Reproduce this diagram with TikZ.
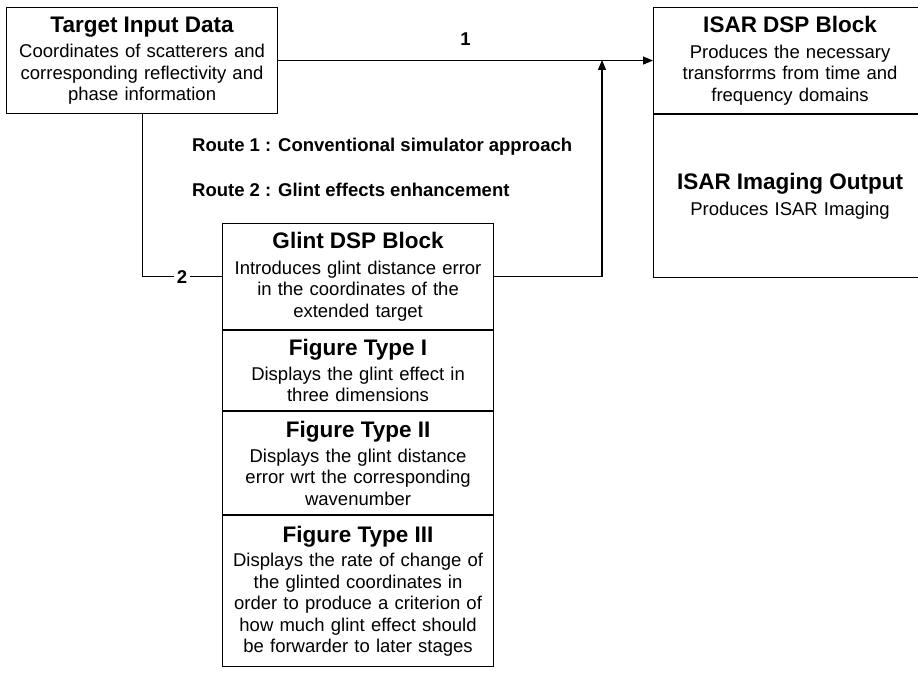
\documentclass[tikz,border=0pt]{standalone}
\usepackage{fontspec}
\setmainfont{Liberation Sans}
\usetikzlibrary{arrows.meta}
\newcommand\ttlfont{\fontsize{22.5}{25}\selectfont\bfseries}
\newcommand\bodyfont{\fontsize{18.5}{21.5}\selectfont}
\newcommand\lblfont{\fontsize{18.5}{21}\selectfont\bfseries}
\begin{document}
\begin{tikzpicture}[x=1pt,y=-1pt,
  blk/.style n args={2}{draw, line width=1.1pt, anchor=north west, inner sep=0pt,
    align=center, font=\bodyfont, text width=#1, minimum width=#1, minimum height=#2},
  link/.style={line width=1.1pt},
  arr/.style={link, -{Triangle[length=10pt,width=8pt]}},
  lbl/.style={font=\lblfont, inner sep=0pt},
  route/.style={font=\lblfont, inner sep=0pt, anchor=base west}]
\useasboundingbox (0,0) rectangle (918,674);
\clip (0,0) rectangle (918,674);
\fill[white] (0,0) rectangle (918,674);

\node[blk={271}{106}] (target) at (6,7)
  {{\ttlfont Target Input Data}\\[4pt]Coordinates of scatterers and\\corresponding reflectivity and\\phase information};
\node[blk={273}{106}] (isar) at (653,7)
  {{\ttlfont ISAR DSP Block}\\[4pt]Produces the necessary\\transforrms from time and\\frequency domains};
\node[blk={273}{163}] (isarout) at (isar.south west)
  {{\ttlfont ISAR Imaging Output}\\[4pt]Produces ISAR Imaging};

\node[blk={271}{106}] (g1) at (222,223)
  {{\ttlfont Glint DSP Block}\\[4pt]Introduces glint distance error\\in the coordinates of the\\extended target};
\node[blk={271}{80}] (g2) at (g1.south west)
  {{\ttlfont Figure Type I}\\[3pt]Displays the glint effect in\\three dimensions};
\node[blk={271}{103}] (g3) at (g2.south west)
  {{\ttlfont Figure Type II}\\[3pt]Displays the glint distance\\error wrt the corresponding\\wavenumber};
\node[blk={271}{151}] (g4) at (g3.south west)
  {{\ttlfont Figure Type III}\\[3pt]Displays the rate of change of\\the glinted coordinates in\\order to produce a criterion of\\how much glint effect should\\be forwarder to later stages};

\node[route] (r1) at (192,151) {Route 1 : Conventional simulator approach};
\node[route] (r2) at (192,196) {Route 2 : Glint effects enhancement};

\draw[arr] (target.east) -- node[lbl, midway, above=14pt] (n1) {1} (isar.west);
\coordinate (join) at (602,60);
\draw[arr] (g1.east) -| (join);
\draw[link] (target.south) |- node[lbl, pos=0.75, fill=white, inner sep=2.5pt] (n2) {2} (g1.west);
\end{tikzpicture}
\end{document}
